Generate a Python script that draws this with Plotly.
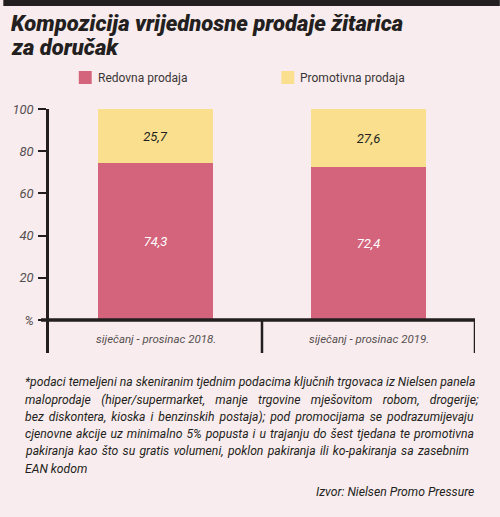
import plotly.graph_objects as go

# ---------------- data ----------------
categories = ["siječanj - prosinac 2018.", "siječanj - prosinac 2019."]
redovna = [74.3, 72.4]
promotivna = [25.7, 27.6]
redovna_labels = ["74,3", "72,4"]
promotivna_labels = ["25,7", "27,6"]
series_names = ["Redovna prodaja", "Promotivna prodaja"]
y_tickvals = [0, 20, 40, 60, 80, 100]
y_ticktext = ["%", "20", "40", "60", "80", "100"]

title_lines = ["Kompozicija vrijednosne prodaje žitarica", "za doručak"]
footnote_lines = [
    "*podaci temeljeni na skeniranim tjednim podacima ključnih trgovaca iz Nielsen panela",
    "maloprodaje (hiper/supermarket, manje trgovine mješovitom robom, drogerije;",
    "bez diskontera, kioska i benzinskih postaja); pod promocijama se podrazumijevaju",
    "cjenovne akcije uz minimalno 5% popusta i u trajanju do šest tjedana te promotivna",
    "pakiranja kao što su gratis volumeni, poklon pakiranja ili ko-pakiranja sa zasebnim",
    "EAN kodom",
]
source_text = "Izvor: Nielsen Promo Pressure"

# ---------------- style ----------------
W, H = 500, 517
BG = "#f9ecee"
PINK = "#d4637c"
YELLOW = "#fadf8f"
DARK = "#231f20"
GREY = "#555050"
FONT = "Roboto, Arial"
TITLE_FONT = "Roboto, Arial"

L, R, T, B = 46, 25, 109, 164
PW, PH = W - L - R, H - T - B

# extra word spacing (px) to approximate the justified footnote
foot_wordspacing = [0, 7.3, 2.0, 1.0, 1.3, 0]


def px(x):
    return (x - L) / PW


def py(y):
    return (H - B - y) / PH


fig = go.Figure()
fig.add_trace(go.Bar(
    x=categories, y=redovna, name=series_names[0], marker_color=PINK,
    marker_line_width=0, text=redovna_labels, textposition="inside",
    insidetextanchor="middle",
    textfont=dict(color="white", size=13, family=FONT, style="italic"),
    showlegend=False, hoverinfo="skip", width=0.54))
fig.add_trace(go.Bar(
    x=categories, y=promotivna, name=series_names[1], marker_color=YELLOW,
    marker_line_width=0, text=promotivna_labels, textposition="inside",
    insidetextanchor="middle",
    textfont=dict(color=DARK, size=13, family=FONT, style="italic"),
    showlegend=False, hoverinfo="skip", width=0.54))

shapes = []
annotations = []

# top black band
shapes.append(dict(type="rect", xref="paper", yref="paper",
                   x0=px(0), x1=px(W), y0=py(6), y1=py(-2),
                   fillcolor=DARK, line_width=0, layer="above"))
# baseline
shapes.append(dict(type="line", xref="paper", yref="y",
                   x0=px(38), x1=1, y0=0, y1=0,
                   line=dict(color=DARK, width=3.5), layer="above"))
# category separators
for xv in [0.5, 1.5]:
    shapes.append(dict(type="line", xref="x", yref="paper",
                       x0=xv, x1=xv, y0=0, y1=py(320),
                       line=dict(color=DARK, width=2.5), layer="above"))

# legend (manual)
legend_pos = [(76, 93), (280, 297)]
for (sx, tx), name, col in zip(legend_pos, series_names, [PINK, YELLOW]):
    shapes.append(dict(type="rect", xref="paper", yref="paper",
                       x0=px(sx), x1=px(sx + 13), y0=py(84), y1=py(71),
                       fillcolor=col, line_width=0))
    annotations.append(dict(text=name, xref="paper", yref="paper",
                            x=px(tx), y=py(78), xanchor="left", yanchor="middle",
                            showarrow=False,
                            font=dict(size=12, color="#3a3636", family=FONT)))

# title
for i, t in enumerate(title_lines):
    annotations.append(dict(text=t, xref="paper", yref="paper",
                            x=px(6), y=py(24 + i * 23), xanchor="left",
                            yanchor="middle", showarrow=False,
                            font=dict(size=22, color=DARK, family=TITLE_FONT,
                                      style="italic", weight=900)))

# category labels
for c in categories:
    annotations.append(dict(text=c, xref="x", yref="paper", x=c, y=py(339),
                            xanchor="center", yanchor="middle", showarrow=False,
                            font=dict(size=11.5, color=GREY, family=FONT,
                                      style="italic")))

# footnote
fy = [382, 399.5, 417, 434, 451, 468.5]
for t, yy, ws in zip(footnote_lines, fy, foot_wordspacing):
    txt = f'<span style="word-spacing:{ws}px">{t}</span>' if ws else t
    annotations.append(dict(text=txt, xref="paper", yref="paper", x=px(20), y=py(yy),
                            xanchor="left", yanchor="middle", showarrow=False,
                            font=dict(size=12.2, color=DARK, family=FONT,
                                      style="italic")))
annotations.append(dict(text=source_text, xref="paper", yref="paper", x=px(476),
                        y=py(492), xanchor="right", yanchor="middle",
                        showarrow=False,
                        font=dict(size=12.2, color=DARK, family=FONT,
                                  style="italic")))

fig.update_layout(
    width=W, height=H, barmode="stack",
    margin=dict(l=L, r=R, t=T, b=B, pad=0),
    paper_bgcolor=BG, plot_bgcolor=BG,
    showlegend=False,
    xaxis=dict(range=[-0.5, 1.5], showticklabels=False, showgrid=False,
               zeroline=False, showline=False, ticks="", fixedrange=True),
    yaxis=dict(range=[-15.64, 100], tickvals=y_tickvals, ticktext=y_ticktext,
               showgrid=False, zeroline=False, showline=True, linecolor=DARK,
               linewidth=2.5, ticks="outside", ticklen=8, tickwidth=1.5,
               tickcolor=DARK, ticklabelstandoff=2, fixedrange=True,
               tickfont=dict(size=13, color=GREY, family=FONT, style="italic")),
    shapes=shapes, annotations=annotations,
    uniformtext=dict(mode=False),
)

fig.write_html(
    "out.html",
    config={"displayModeBar": False},
    post_script="document.body.style.margin='0';document.body.style.overflow='hidden';",
)
